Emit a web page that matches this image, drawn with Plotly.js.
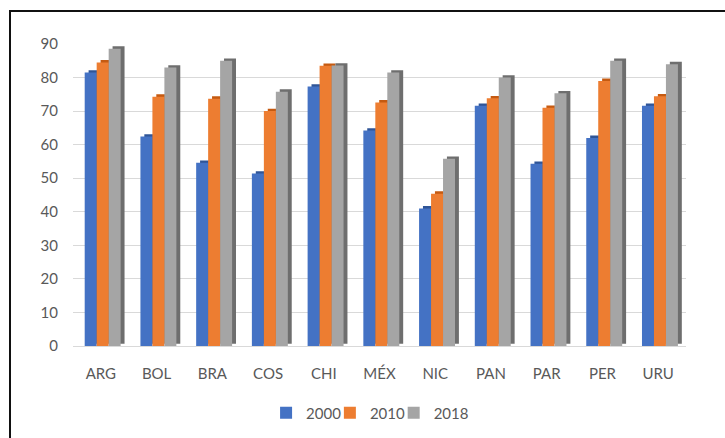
<!DOCTYPE html>
<html>
<head>
<meta charset="utf-8">
<script src="https://cdn.plot.ly/plotly-3.0.1.min.js"></script>
<style>
  html, body { margin: 0; padding: 0; background: #fff; }
  #wrap { position: relative; width: 725px; height: 438px; overflow: hidden; }
  #chart { position: absolute; left: 0; top: 0; width: 725px; height: 438px; }
  #frame { position: absolute; left: 9px; top: 10px; width: 740px; height: 460px;
           border-left: 2px solid #111; border-top: 2px solid #111; pointer-events: none; }
</style>
</head>
<body>
<div id="wrap">
  <div id="chart"></div>
  <div id="frame"></div>
</div>
<script>
const categories = ["ARG", "BOL", "BRA", "COS", "CHI", "MÉX", "NIC", "PAN", "PAR", "PER", "URU"];
const seriesNames = ["2000", "2010", "2018"];
const values2000 = [81.5, 62.4, 54.6, 51.4, 77.3, 64.2, 41.0, 71.6, 54.3, 62.0, 71.6];
const values2010 = [84.5, 74.3, 73.7, 70.0, 83.5, 72.6, 45.4, 73.8, 71.0, 79.0, 74.4];
const values2018 = [88.6, 83.0, 85.0, 75.8, 83.6, 81.5, 55.8, 80.0, 75.3, 85.0, 84.0];
const yTicks = [0, 10, 20, 30, 40, 50, 60, 70, 80, 90];

const series = [values2000, values2010, values2018];
const faceColors = ["#4472C4", "#ED7D31", "#A5A5A5"];
const sideColors = ["#2F5597", "#C55A11", "#6E6E6E"];
const barW = 0.215;
const offsets = [-0.29, -0.075, 0.14];
const depthShift = 0.07;   // horizontal depth of the 3D side
const depthLift = 0.7;     // vertical depth of the 3D top
const legendIds = ["legend", "legend2", "legend3"];
const legendX = [0.367, 0.455, 0.543];

const traces = [];
series.forEach((vals, i) => {
  traces.push({
    type: "bar", x: categories, y: vals,
    base: vals.map(() => depthLift),
    width: barW, offset: offsets[i] + depthShift,
    marker: { color: sideColors[i], line: { width: 0 } },
    showlegend: false, hoverinfo: "skip"
  });
  traces.push({
    type: "bar", name: seriesNames[i], x: categories, y: vals,
    width: barW, offset: offsets[i], legend: legendIds[i],
    marker: { color: faceColors[i], line: { width: 0 } }
  });
});

const legendFont = { family: "Lato, 'Open Sans', sans-serif", size: 15, color: "#595959" };
function legendAt(x) {
  return {
    orientation: "h", xref: "container", yref: "container",
    x: x, xanchor: "left", y: 0.057, yanchor: "middle",
    font: legendFont, itemwidth: 30, bgcolor: "rgba(0,0,0,0)"
  };
}

const layout = {
  width: 725, height: 438,
  margin: { l: 73, r: 39, t: 44, b: 92, autoexpand: false },
  paper_bgcolor: "#fff", plot_bgcolor: "#fff",
  barmode: "overlay",
  font: legendFont,
  xaxis: {
    type: "category", showgrid: false, zeroline: false, showline: false,
    ticks: "", ticklabelstandoff: 17, automargin: false,
    tickfont: legendFont
  },
  yaxis: {
    range: [0, 90], tickvals: yTicks, ticktext: yTicks.map(String),
    showgrid: true, gridcolor: "#d9d9d9", gridwidth: 1,
    zeroline: true, zerolinecolor: "#d9d9d9", zerolinewidth: 1,
    showline: false, ticks: "", ticklabelstandoff: 14, automargin: false,
    tickfont: legendFont
  },
  legend: legendAt(legendX[0]),
  legend2: legendAt(legendX[1]),
  legend3: legendAt(legendX[2]),
  showlegend: true
};

Plotly.newPlot("chart", traces, layout, { displayModeBar: false, staticPlot: true });
</script>
</body>
</html>
